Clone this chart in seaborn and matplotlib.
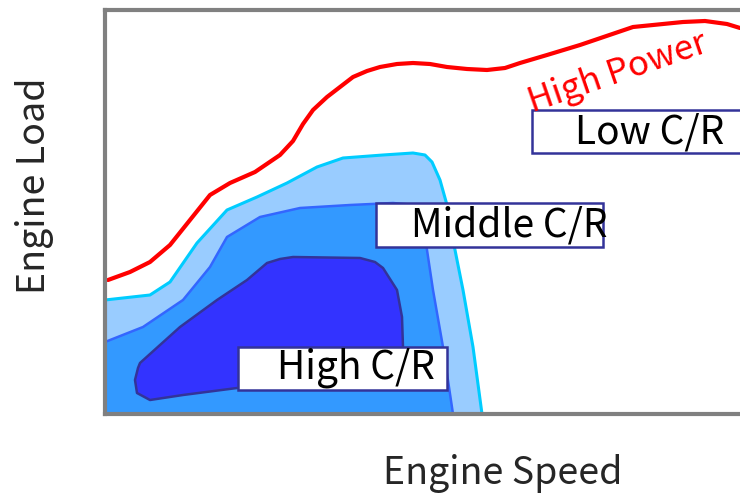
import matplotlib
matplotlib.use("Agg")
import matplotlib.pyplot as plt
from matplotlib.patches import Rectangle
import seaborn as sns
import pandas as pd

# DATA (engine speed / engine load in arbitrary map units)
power_speed = [3, 25, 45, 65, 85, 105, 125, 150, 175, 188, 198, 208, 222, 235, 248, 262, 275, 292, 308, 325, 342, 362, 382, 400, 415, 442, 475, 528, 578, 600, 622, 635]
power_load = [134, 142, 152, 169, 194, 219, 231, 242, 259, 273, 290, 304, 317, 327, 337, 343, 347, 350, 351, 350, 347, 345, 344, 346, 351, 359, 369, 387, 392, 393, 390, 386]

low_cr_speed = [0, 45, 65, 92, 122, 152, 182, 212, 238, 278, 308, 320, 327, 335, 342, 348, 358, 368, 377, 0]
low_cr_load = [114, 119, 132, 171, 204, 217, 231, 247, 256, 259, 261, 259, 252, 234, 209, 174, 124, 67, 0, 0]

mid_cr_speed = [0, 38, 78, 105, 122, 155, 195, 245, 288, 310, 318, 322, 328, 338, 348, 0]
mid_cr_load = [72, 87, 114, 147, 177, 197, 206, 209, 211, 209, 199, 164, 124, 67, 0, 0]

high_cr_speed = [35, 75, 112, 142, 162, 175, 188, 255, 270, 278, 292, 297, 298, 298, 132, 78, 45, 32, 30, 33]
high_cr_load = [51, 87, 114, 134, 151, 155, 157, 156, 152, 146, 124, 97, 67, 29, 26, 19, 14, 21, 34, 46]

labels = ["High C/R", "Middle C/R", "Low C/R"]

# label boxes: (x0, y0, width, height) and text centre
boxes = [(133, 24, 209, 43), (271, 167, 227, 44), (427, 261, 230, 43)]
text_pos = [(251, 46), (404, 189), (545, 282)]

if __name__ == "__main__":
    sns.set_theme(style="white")
    plt.rcParams["font.family"] = ["Noto Sans CJK JP", "DejaVu Sans"]

    fig = plt.figure(figsize=(7.4, 4.94), dpi=100)
    ax = fig.add_axes([105 / 740, 1 - 414 / 494, 640 / 740, 404 / 494])

    # nested C/R regions
    ax.fill(low_cr_speed, low_cr_load, facecolor="#99ccff", edgecolor="#00ccff", lw=2.2, joinstyle="round", zorder=1)
    ax.fill(mid_cr_speed, mid_cr_load, facecolor="#3399ff", edgecolor="#3366ff", lw=1.8, joinstyle="round", zorder=2)
    ax.fill(high_cr_speed, high_cr_load, facecolor="#3333ff", edgecolor="#333399", lw=1.8, joinstyle="round", zorder=3)

    # high power line
    df = pd.DataFrame({"speed": power_speed, "load": power_load})
    sns.lineplot(data=df, x="speed", y="load", sort=False, color="#ff0000", lw=3, ax=ax, zorder=4)
    ax.lines[-1].set_solid_joinstyle("round")
    ax.lines[-1].set_solid_capstyle("round")
    ax.text(513, 341, "High Power", color="#ff0000", fontsize=25, rotation=19,
            ha="center", va="center", rotation_mode="anchor", zorder=7)

    # label boxes
    for (x0, y0, w, h), (tx, ty), lab in zip(boxes, text_pos, labels):
        ax.add_patch(Rectangle((x0, y0), w, h, facecolor="white", edgecolor="#333399", lw=1.8, zorder=5))
        ax.text(tx, ty, lab, fontsize=28, ha="center", va="center", color="black", zorder=6)

    ax.set_xlim(0, 640)
    ax.set_ylim(0, 404)
    ax.set_xticks([])
    ax.set_yticks([])
    ax.set_xlabel("")
    ax.set_ylabel("")
    for sp in ax.spines.values():
        sp.set_color("#808080")
        sp.set_linewidth(3)
        sp.set_zorder(8)

    fig.text(503 / 740, 1 - 473 / 494, "Engine Speed", fontsize=27, ha="center", va="center")
    fig.text(35 / 740, 1 - 186 / 494, "Engine Load", fontsize=27, ha="center", va="center", rotation=90)

    fig.savefig("out.png", dpi=100)
